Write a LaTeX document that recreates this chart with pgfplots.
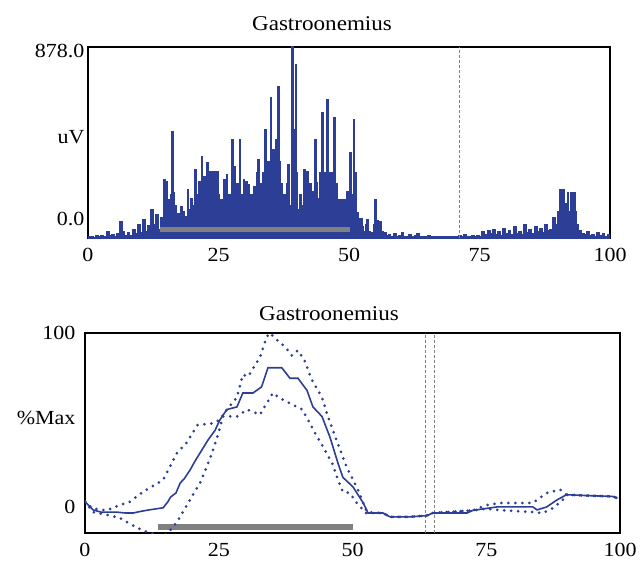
\documentclass[border=0pt]{standalone}
\usepackage{fontspec}
\setmainfont[FakeStretch=1.1]{Liberation Serif}
\usepackage{pgfplots}
\pgfplotsset{compat=1.18}
\definecolor{emgblue}{RGB}{44,62,150}
\definecolor{bargray}{RGB}{128,128,128}

% raw EMG (uV)
\pgfplotstableread{
x y
0 5
0.5 8
1 3
1.5 10
2 6
2.5 12
3 8
3.5 28
4 10
4.5 15
5 6
5.5 20
6 74
6.5 30
7 12
7.5 25
8 10
8.5 40
9 20
9.5 60
10 25
10.5 83
11 30
11.5 55
12 129
12.5 60
13 106
13.5 40
14 92
14.25 30
14.5 267
14.75 120
15 258
15.25 175
15.5 90
15.75 200
16 60
16.1 488
16.3 207
16.5 97
16.75 150
17 60
17.25 110
17.5 40
17.75 143
18 70
18.25 120
18.5 50
18.75 100
19 221
19.25 130
19.5 60
19.75 180
20 90
20.25 150
20.5 313
20.75 200
21 120
21.25 258
21.5 90
21.75 373
22 200
22.25 281
22.5 100
22.75 345
23 160
23.25 304
23.5 80
23.75 304
24 200
24.25 304
24.5 150
24.75 304
25 200
25.25 83
25.5 175
25.75 60
26 267
26.25 150
26.5 290
26.75 120
27 200
27.25 100
27.5 373
27.6 451
27.8 200
28 327
28.25 150
28.5 250
28.75 100
29 451
29.25 200
29.5 120
29.75 267
30 150
30.25 258
30.5 100
30.75 244
31 120
31.25 200
31.5 80
31.75 235
32 150
32.25 300
32.5 359
32.75 180
33 250
33.25 120
33.5 300
33.9 497
34.1 200
34.4 350
34.7 250
34.9 644
35.1 300
35.4 405
35.7 200
36 451
36.2 300
36.4 695
36.6 350
36.9 250
37.2 143
37.5 200
37.8 100
38.1 250
38.3 336
38.6 150
38.9 100
39.1 878
39.4 500
39.7 796
39.9 300
40.2 129
40.5 200
40.8 97
41 150
41.3 313
41.6 200
41.9 304
42.2 150
42.5 250
42.8 100
43 212
43.2 150
43.5 451
43.8 253
44 180
44.3 300
44.6 150
44.8 575
45.1 300
45.5 200
45.8 635
46.1 300
46.4 161
46.7 300
47 552
47.3 250
47.7 175
48 100
48.3 175
48.7 120
49 175
49.3 100
49.6 212
49.9 150
50.2 391
50.5 200
50.8 543
51.1 300
51.5 115
51.8 60
52.1 90
52.5 51
52.8 30
53.1 60
53.4 83
53.7 30
54 20
54.4 23
54.7 60
55 175
55.3 80
55.6 40
55.9 74
56.2 30
56.5 15
56.9 23
57.2 10
57.5 15
58 8
58.5 20
59 5
59.5 12
60 25
60.5 8
61 5
61.5 15
62 6
62.5 10
63 20
63.5 5
64 8
64.5 5
65 10
65.5 4
66 8
66.5 5
67 6
67.5 4
68 8
68.5 5
69 6
69.5 4
70 8
70.5 5
71 10
71.5 6
72 15
72.5 8
73 5
73.5 10
74 5
74.5 12
75 8
75.5 30
76 15
76.5 35
77 20
77.5 40
78 15
78.5 30
79 10
79.5 45
80 20
80.5 35
81 15
81.5 50
82 20
82.5 30
83 15
83.5 60
84 25
84.5 40
85 20
85.5 50
86 30
86.5 45
87 25
87.5 60
88 35
88.5 40
89 95
89.5 60
90 120
90.3 221
90.6 120
90.9 221
91.2 100
91.5 160
91.8 207
92.1 120
92.4 207
92.7 100
93 207
93.3 120
93.6 60
94 35
94.5 20
95 15
95.5 30
96 10
96.5 15
97 8
97.5 25
98 10
98.5 20
99 5
99.5 15
100 5
}\rawemg

% normalised envelope (%Max): mean, upper and lower band
\pgfplotstableread{
x y
0 3
1.5 -1.7
3 -3
6 -3
7.5 -3.5
9 -3.5
10.5 -2.5
12 -1.7
14.6 -0.5
15.5 3
16 5.7
17 8
17.8 13.8
18.5 16
19.6 21
20.5 26
21.5 31
23 38.5
24.3 44
25.2 50
26.5 56
28.4 57.5
29.5 65.5
31.4 65.5
33 69
34.2 80
36.8 80
38.3 74
39.8 74
41.5 67
42.6 57.5
44.3 52
45.8 40
47.3 25
48.2 17
50.1 11.5
52 2.3
52.9 -3.5
55.7 -3.5
57 -5.7
60.7 -5.7
63.9 -5
65 -3.5
71.4 -3.5
72.5 -2
77 0
83.7 0
84.5 -1.7
86.3 0
88.2 4
90 7
94 6.5
98.7 6
99.5 5
}\meancurve

\pgfplotstableread{
x y
0 3
1.5 -1
4 -2
6.5 1
8.4 3
10.8 8.6
14.6 15.5
15.5 21
17.2 31
19 37
21 47
23.7 48
25.2 50
26.5 56
28.4 63
29.5 76
30.5 75
32.7 86
34 98
34.6 100
35.5 97
37.4 92
38.7 87
39.8 90
41 84.5
42.4 73
44.3 63
45.4 52
47 38.5
48.9 23
51 10
52.7 -3
55.7 -3.5
57 -5.7
60.7 -5.7
63.9 -5
65 -3.5
72.5 -2
75 1
77.6 2.3
83.7 2.3
86.3 8
88.8 10
90 7
94 6.5
98.7 6
99.5 5
}\uppercurve

\pgfplotstableread{
x y
0 3
1.5 -3
4 -4.5
6.5 -6.3
9.7 -12
11.6 -14.4
14.4 -17
15.5 -15
17.2 -8.6
19.6 4
21.5 13.8
23.4 28
24.7 40
25.8 52
28.4 52
30.3 56
32.7 53
35.1 65.5
36.4 62.6
38.9 58.6
40.6 56
41.7 50
43 42.5
44.5 34.5
46.2 25
47.3 15.5
48.2 8.6
49.5 8
50.8 2.3
52.5 -3.5
55.7 -3.5
57 -5.7
60.7 -5.7
63.9 -5
65 -3.5
72.5 -2
75 -1
77 -1.7
83.7 -3
85.6 -3.5
87.5 -0.6
89.3 4
90 7
94 6.5
98.7 6
99.5 5
}\lowercurve

\pgfplotsset{
  emgbox/.style={
    scale only axis,
    axis line style={line width=1.5pt},
    major tick length=0pt,
    tick style={draw=none},
    xmin=0, xmax=100,
    xtick={0,25,50,75,100},
    xticklabels={0,25,50,75,100},
    ticklabel style={font=\fontsize{20}{22}\selectfont},
    xticklabel style={yshift=-7pt},
    /pgf/number format/assume math mode=true,
  },
  dotband/.style={emgblue, line width=3pt, line cap=round,
    dash pattern=on 0pt off 7pt},
}

\begin{document}
\begin{tikzpicture}
\useasboundingbox (0pt,0pt) rectangle (642pt,-560pt);

\node[anchor=base, font=\fontsize{21}{24}\selectfont] at (322pt,-30.7pt) {Gastroonemius};
\node[anchor=base, font=\fontsize{21}{24}\selectfont] at (329pt,-320pt) {Gastroonemius};

% top: raw signal
\begin{axis}[emgbox,
    at={(88pt,-238pt)}, anchor=south west,
    width=522pt, height=191pt,
    ymin=0, ymax=878,
    ytick={87,464,860},
    yticklabels={0.0,uV,878.0},
]
\addplot[const plot, draw=emgblue, fill=emgblue, line width=1.3pt] table {\rawemg} \closedcycle;
\addplot[bargray, line width=5pt] coordinates {(13.8,37) (50.2,37)};
\addplot[gray, line width=0.8pt, dash pattern=on 3pt off 2pt] coordinates {(71.1,0) (71.1,878)};
\end{axis}

% bottom: ensemble envelope
\begin{axis}[emgbox,
    at={(85pt,-533pt)}, anchor=south west,
    width=535pt, height=200pt,
    ymin=-15, ymax=100,
    ytick={0,51,100},
    yticklabels={0,\%Max,100},
    yticklabel style={xshift=-6pt},
]
\addplot[bargray, line width=6pt] coordinates {(13.6,-11.5) (50.1,-11.5)};
\addplot[gray, line width=0.8pt, dash pattern=on 3pt off 2pt] coordinates {(63.7,-15) (63.7,100)};
\addplot[gray, line width=0.8pt, dash pattern=on 3pt off 2pt] coordinates {(65.4,-15) (65.4,100)};
\addplot[dotband] table {\uppercurve};
\addplot[dotband] table {\lowercurve};
\addplot[emgblue, line width=1.6pt] table {\meancurve};
\end{axis}
\end{tikzpicture}
\end{document}
